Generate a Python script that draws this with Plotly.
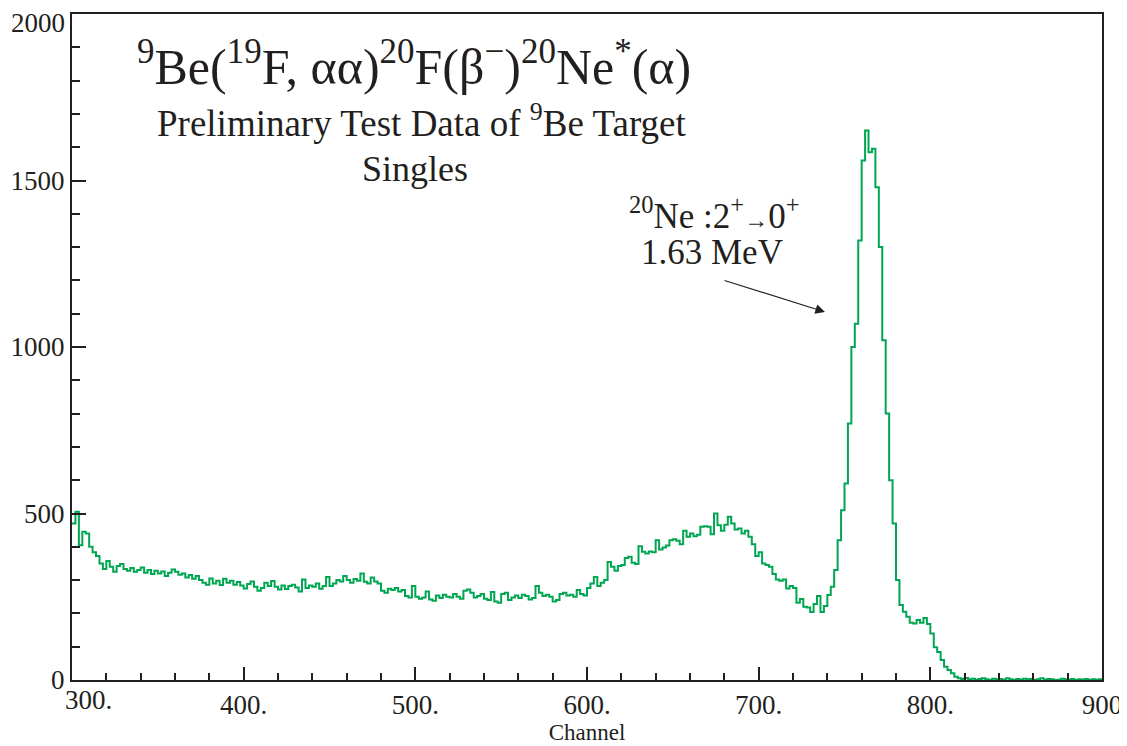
import numpy as np
import plotly.graph_objects as go

# histogram: 2-channel bins from 300 to 900
bin_lo = 300
bin_w = 2
counts = [
    470, 505, 405, 445, 440, 400, 384, 372, 350, 333,
    357, 340, 325, 342, 348, 333, 328, 336, 325, 330,
    338, 322, 330, 318, 328, 320, 326, 312, 322, 332,
    325, 316, 320, 308, 315, 304, 312, 300, 292, 286,
    305, 290, 298, 285, 304, 292, 298, 286, 294, 284,
    275, 288, 296, 280, 268, 276, 292, 282, 297, 280,
    272, 284, 273, 282, 286, 278, 266, 302, 276, 284,
    280, 290, 274, 282, 309, 282, 290, 300, 296, 312,
    300, 292, 303, 298, 320, 295, 290, 308, 296, 290,
    268, 262, 274, 270, 276, 266, 270, 252, 248, 282,
    250, 244, 248, 266, 242, 238, 254, 246, 256, 250,
    248, 258, 250, 244, 268, 272, 262, 248, 252, 258,
    244, 240, 264, 236, 232, 258, 262, 240, 248, 254,
    246, 256, 252, 242, 246, 282, 262, 252, 256, 250,
    236, 240, 258, 262, 254, 256, 250, 270, 258, 254,
    276, 290, 309, 282, 292, 300, 354, 340, 328, 342,
    345, 366, 370, 352, 348, 402, 385, 380, 386, 384,
    420, 392, 398, 404, 420, 423, 418, 408, 448, 430,
    440, 432, 436, 460, 462, 460, 438, 500, 465, 448,
    466, 490, 470, 452, 455, 440, 448, 430, 408, 372,
    384, 350, 345, 340, 318, 302, 298, 302, 275, 282,
    276, 232, 243, 220, 218, 204, 228, 252, 204, 222,
    255, 280, 330, 420, 510, 590, 770, 1000, 1070, 1320,
    1560, 1650, 1585, 1595, 1480, 1300, 1020, 800, 600, 470,
    300, 225, 205, 190, 172, 170, 180, 172, 186, 168,
    140, 98, 84, 60, 40, 30, 20, 10,
    5, 3, 6, 2, 4, 1, 3, 5, 2, 0,
    4, 2, 3, 1, 5, 2, 0, 3, 1, 4,
    2, 3, 0, 2, 5, 1, 3, 2, 0, 1,
    4, 2, 1, 3, 0, 2, 1, 3, 0, 2,
    1, 2,
]

x_ticks = [400, 500, 600, 700, 800, 900]
x_ticktext = ["400.", "500.", "600.", "700.", "800.", "900"]
y_ticks = [0, 500, 1000, 1500, 2000]

edges = bin_lo + bin_w * np.arange(len(counts) + 1)
xs = edges
ys = list(counts) + [counts[-1]]

green = "#00a651"
ink = "#231f20"
serif = "Liberation Serif, Times New Roman, serif"

fig = go.Figure()
fig.add_trace(go.Scatter(
    x=xs, y=ys, mode="lines", line=dict(color=green, width=2, shape="hv"),
    hoverinfo="skip", showlegend=False,
))

# page body has an 8px margin, so the margins are shifted to compensate
fig.update_layout(
    width=1127, height=746,
    margin=dict(l=64, r=33, t=6, b=74),
    paper_bgcolor="white", plot_bgcolor="white",
    font=dict(family=serif, color=ink),
)
fig.update_xaxes(
    range=[300, 900], showgrid=False, zeroline=False, automargin=False,
    showline=True, linecolor=ink, linewidth=2, mirror=True,
    ticks="inside", ticklen=13, tickwidth=2, tickcolor=ink,
    tickvals=x_ticks, ticktext=x_ticktext,
    tickfont=dict(size=27, family=serif, color=ink),
    minor=dict(ticks="inside", ticklen=7, tickwidth=1.5, tickcolor=ink, dtick=20, tick0=300),
    title=dict(text="Channel", font=dict(size=23, family=serif, color=ink), standoff=2),
)
fig.update_yaxes(
    range=[0, 2000], showgrid=False, zeroline=False, automargin=False,
    showline=True, linecolor=ink, linewidth=2, mirror=True,
    ticks="inside", ticklen=14, tickwidth=2, tickcolor=ink,
    tickvals=y_ticks, ticktext=[str(v) for v in y_ticks],
    tickfont=dict(size=27, family=serif, color=ink),
    minor=dict(ticks="inside", ticklen=8, tickwidth=1.5, tickcolor=ink, dtick=100, tick0=0),
)

# top y label gets dropped at the page edge, so draw it as an annotation
fig.add_annotation(
    text=str(y_ticks[-1]), x=0, y=y_ticks[-1], xref="paper", yref="y",
    xanchor="right", yanchor="middle", xshift=-5, yshift=-9,
    showarrow=False, font=dict(size=27, family=serif, color=ink),
)

# "300." label sits just right of the corner
fig.add_annotation(
    text="300.", x=300, y=0, xref="x", yref="y", xanchor="left", yanchor="top",
    xshift=-9, yshift=-3, showarrow=False, font=dict(size=27, family=serif, color=ink),
)

# text blocks, positioned in pixels of the 1127x746 reference
labels = [
    ("<sup>9</sup>Be(<sup>19</sup>F, αα)<sup>20</sup>F(β<sup>−</sup>)<sup>20</sup>Ne<sup>*</sup>(α)", 414, 64, 50),
    ("Preliminary Test Data of <sup>9</sup>Be Target", 421, 121, 37),
    ("Singles", 415, 169, 36),
    ("<sup>20</sup>Ne :2<sup>+</sup><span style='font-size:24px'>→</span>0<sup>+</sup>", 714, 213, 35),
    ("1.63 MeV", 712, 253, 35),
]
for txt, px, py, size in labels:
    fig.add_annotation(
        text=txt, x=(px - 72) / 1030, y=1 - (py - 14) / 666,
        xref="paper", yref="paper", xanchor="center", yanchor="middle",
        showarrow=False, font=dict(size=size, family=serif, color=ink),
    )

# arrow toward the peak
fig.add_annotation(
    x=(825 - 72) / 1030, y=1 - (312 - 14) / 666, xref="paper", yref="paper",
    ax=-102, ay=-32, text="", showarrow=True,
    arrowhead=2, arrowsize=1.6, arrowwidth=1.2, arrowcolor=ink,
)

fig.write_html("out.html")
